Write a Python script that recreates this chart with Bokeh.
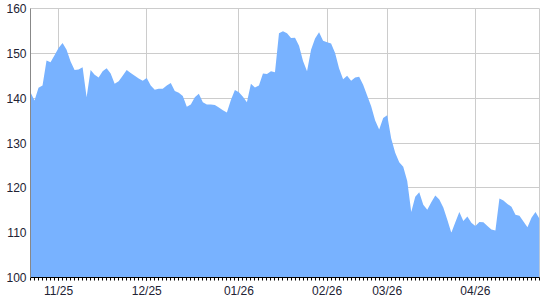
from bokeh.plotting import figure
from bokeh.models import ColumnDataSource, Range1d, FixedTicker
from bokeh.embed import file_html
from bokeh.resources import INLINE

# daily closing values (one per trading day)
values = [
    141.3, 139.5, 142.3, 142.8, 148.4, 148.0, 149.6, 151.2, 152.3, 150.8,
    148.2, 146.3, 146.4, 146.9, 140.2, 146.3, 145.2, 144.6, 146.0, 146.7,
    145.5, 143.2, 143.8, 145.0, 146.3, 145.6, 145.0, 144.4, 143.9, 144.5,
    142.8, 141.9, 142.1, 142.1, 142.8, 143.4, 141.6, 141.2, 140.5, 138.1,
    138.6, 140.2, 141.0, 139.1, 138.6, 138.6, 138.5, 137.9, 137.3, 136.8,
    139.6, 141.8, 141.3, 140.3, 139.1, 143.2, 142.4, 142.8, 145.5, 145.4,
    146.0, 145.8, 154.5, 154.9, 154.5, 153.4, 153.5, 151.7, 148.3, 146.0,
    150.8, 153.3, 154.7, 152.8, 152.5, 152.2, 150.1, 146.6, 144.2, 145.0,
    143.9, 144.6, 144.8, 143.0, 140.6, 138.2, 135.0, 133.0, 135.6, 136.2,
    131.0, 127.8, 125.7, 124.7, 121.5, 114.6, 118.0, 119.0, 116.2, 115.1,
    116.8, 118.3, 117.4, 115.6, 112.9, 110.0, 112.3, 114.6, 112.6, 113.6,
    112.2, 111.5, 112.4, 112.3, 111.5, 110.7, 110.5, 117.6, 117.2, 116.4,
    115.8, 114.0, 113.8, 112.5, 111.2, 113.3, 114.6, 113.1,
]
day_index = list(range(len(values)))

tick_positions = [7, 29, 52, 74, 89, 111]
tick_labels = ["11/25", "12/25", "01/26", "02/26", "03/26", "04/26"]
y_ticks = [100, 110, 120, 130, 140, 150, 160]

source = ColumnDataSource(data=dict(x=day_index, y=values, base=[100] * len(values)))

p = figure(width=540, height=300, output_backend="svg", toolbar_location=None,
           x_range=Range1d(0, len(values) - 1), y_range=Range1d(100, 160),
           min_border_left=30, min_border_right=1, min_border_top=8,
           min_border_bottom=23)
p.background_fill_color = "white"
p.border_fill_color = "white"
p.outline_line_color = "#cccccc"

p.varea(x="x", y1="base", y2="y", source=source, fill_color="#78b2ff", fill_alpha=1.0)

# x axis
p.xaxis.ticker = FixedTicker(ticks=tick_positions, minor_ticks=day_index)
p.xaxis.major_label_overrides = {t: l for t, l in zip(tick_positions, tick_labels)}
p.xaxis.axis_line_color = "black"
p.xaxis.major_tick_line_color = "black"
p.xaxis.major_tick_out = 3
p.xaxis.major_tick_in = 0
p.xaxis.minor_tick_line_color = "black"
p.xaxis.minor_tick_out = 3
p.xaxis.minor_tick_in = 0
p.xaxis.major_label_standoff = 3
p.xaxis.major_label_text_font = "Liberation Sans"
p.xaxis.major_label_text_font_size = "12px"
p.xaxis.major_label_text_color = "#222233"

# y axis
p.yaxis.ticker = FixedTicker(ticks=y_ticks)
p.yaxis.axis_line_color = "#888888"
p.yaxis.major_tick_line_color = None
p.yaxis.minor_tick_line_color = None
p.yaxis.major_tick_out = 0
p.yaxis.major_tick_in = 0
p.yaxis.major_label_standoff = 4
p.yaxis.major_label_text_font = "Liberation Sans"
p.yaxis.major_label_text_font_size = "12px"
p.yaxis.major_label_text_color = "#222233"

p.xgrid.grid_line_color = "#cccccc"
p.ygrid.grid_line_color = "#cccccc"
p.grid.level = "underlay"

open("out.html", "w").write(file_html(p, INLINE))
